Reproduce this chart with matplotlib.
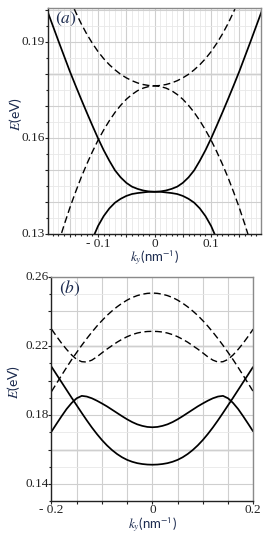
import matplotlib
matplotlib.use("Agg")
import matplotlib.pyplot as plt
from matplotlib.ticker import MultipleLocator

# ---------------- data: panel (a) ----------------
ka_sup = [-0.19, -0.18, -0.17, -0.16, -0.15, -0.14, -0.13, -0.12, -0.11, -0.10,
          -0.09, -0.08, -0.07, -0.06, -0.05, -0.04, -0.03, -0.02, -0.01, 0.0,
          0.01, 0.02, 0.03, 0.04, 0.05, 0.06, 0.07, 0.08, 0.09, 0.10,
          0.11, 0.12, 0.13, 0.14, 0.15, 0.16, 0.17, 0.18, 0.19]
Ea_sup = [0.2000, 0.1952, 0.1904, 0.1857, 0.1810, 0.1766, 0.1723, 0.1681, 0.1640, 0.1600,
          0.1563, 0.1530, 0.1500, 0.1478, 0.1461, 0.1449, 0.1442, 0.1437, 0.1434, 0.1433,
          0.1434, 0.1437, 0.1442, 0.1449, 0.1461, 0.1478, 0.1500, 0.1530, 0.1563, 0.1600,
          0.1640, 0.1681, 0.1723, 0.1766, 0.1810, 0.1857, 0.1904, 0.1952, 0.2000]

ka_slo = [-0.12, -0.11, -0.10, -0.09, -0.08, -0.07, -0.06, -0.05, -0.04, -0.03, -0.02, -0.01, 0.0,
          0.01, 0.02, 0.03, 0.04, 0.05, 0.06, 0.07, 0.08, 0.09, 0.10, 0.11, 0.12]
Ea_slo = [0.1233, 0.1285, 0.1326, 0.1357, 0.1381, 0.1399, 0.1411, 0.1420, 0.1426, 0.1429, 0.1431, 0.1433, 0.1433,
          0.1433, 0.1431, 0.1429, 0.1426, 0.1420, 0.1411, 0.1399, 0.1381, 0.1357, 0.1326, 0.1285, 0.1233]

ka_dup = [-0.15, -0.14, -0.13, -0.12, -0.11, -0.10, -0.09, -0.08, -0.07, -0.06, -0.05, -0.04, -0.03, -0.02, -0.01, 0.0,
          0.01, 0.02, 0.03, 0.04, 0.05, 0.06, 0.07, 0.08, 0.09, 0.10, 0.11, 0.12, 0.13, 0.14, 0.15]
Ea_dup = [0.2038, 0.1996, 0.1959, 0.1926, 0.1897, 0.1871, 0.1849, 0.1830, 0.1814, 0.1800, 0.1789, 0.1780, 0.1773, 0.1768, 0.1765, 0.1764,
          0.1765, 0.1768, 0.1773, 0.1780, 0.1789, 0.1800, 0.1814, 0.1830, 0.1849, 0.1871, 0.1897, 0.1926, 0.1959, 0.1996, 0.2038]

ka_dlo = [-0.17, -0.16, -0.15, -0.14, -0.13, -0.12, -0.11, -0.10, -0.09, -0.08, -0.07, -0.06, -0.05, -0.04, -0.03, -0.02, -0.01, 0.0,
          0.01, 0.02, 0.03, 0.04, 0.05, 0.06, 0.07, 0.08, 0.09, 0.10, 0.11, 0.12, 0.13, 0.14, 0.15, 0.16, 0.17]
Ea_dlo = [0.1273, 0.1329, 0.1382, 0.1431, 0.1477, 0.1519, 0.1558, 0.1594, 0.1626, 0.1655, 0.1681, 0.1703, 0.1722, 0.1737, 0.1749, 0.1757, 0.1762, 0.1764,
          0.1762, 0.1757, 0.1749, 0.1737, 0.1722, 0.1703, 0.1681, 0.1655, 0.1626, 0.1594, 0.1558, 0.1519, 0.1477, 0.1431, 0.1382, 0.1329, 0.1273]

# ---------------- data: panel (b) ----------------
kb = [-0.20, -0.19, -0.18, -0.17, -0.16, -0.15, -0.14, -0.13, -0.12, -0.11, -0.10,
      -0.09, -0.08, -0.07, -0.06, -0.05, -0.04, -0.03, -0.02, -0.01, 0.0,
      0.01, 0.02, 0.03, 0.04, 0.05, 0.06, 0.07, 0.08, 0.09, 0.10,
      0.11, 0.12, 0.13, 0.14, 0.15, 0.16, 0.17, 0.18, 0.19, 0.20]
Eb_d1 = [0.1936, 0.1983, 0.2030, 0.2076, 0.2121, 0.2163, 0.2204, 0.2243, 0.2280, 0.2315, 0.2347,
         0.2377, 0.2403, 0.2427, 0.2448, 0.2466, 0.2481, 0.2492, 0.2500, 0.2505, 0.2507,
         0.2505, 0.2500, 0.2492, 0.2481, 0.2466, 0.2448, 0.2427, 0.2403, 0.2377, 0.2347,
         0.2315, 0.2280, 0.2243, 0.2204, 0.2163, 0.2121, 0.2076, 0.2030, 0.1983, 0.1936]
Eb_d2 = [0.2298, 0.2256, 0.2216, 0.2180, 0.2148, 0.2122, 0.2109, 0.2107, 0.2118, 0.2137, 0.2160,
         0.2182, 0.2202, 0.2222, 0.2239, 0.2254, 0.2266, 0.2275, 0.2281, 0.2284, 0.2285,
         0.2284, 0.2281, 0.2275, 0.2266, 0.2254, 0.2239, 0.2222, 0.2202, 0.2182, 0.2160,
         0.2137, 0.2118, 0.2107, 0.2109, 0.2122, 0.2148, 0.2180, 0.2216, 0.2256, 0.2298]
Eb_s1 = [0.1704, 0.1749, 0.1793, 0.1835, 0.1870, 0.1897, 0.1911, 0.1907, 0.1897, 0.1883, 0.1867,
         0.1850, 0.1831, 0.1812, 0.1793, 0.1775, 0.1759, 0.1746, 0.1737, 0.1731, 0.1729,
         0.1731, 0.1737, 0.1746, 0.1759, 0.1775, 0.1793, 0.1812, 0.1831, 0.1850, 0.1867,
         0.1883, 0.1897, 0.1907, 0.1911, 0.1897, 0.1870, 0.1835, 0.1793, 0.1749, 0.1704]
Eb_s2 = [0.2080, 0.2035, 0.1990, 0.1945, 0.1900, 0.1856, 0.1812, 0.1769, 0.1728, 0.1690, 0.1655,
         0.1624, 0.1597, 0.1574, 0.1555, 0.1540, 0.1529, 0.1521, 0.1516, 0.1513, 0.1512,
         0.1513, 0.1516, 0.1521, 0.1529, 0.1540, 0.1555, 0.1574, 0.1597, 0.1624, 0.1655,
         0.1690, 0.1728, 0.1769, 0.1812, 0.1856, 0.1900, 0.1945, 0.1990, 0.2035, 0.2080]

# tick labels
xa_ticks = [-0.1, 0.0, 0.1]
xa_labels = ['- 0.1', '0', '0.1']
ya_ticks = [0.13, 0.16, 0.19]
ya_labels = ['0.13', '0.16', '0.19']
xb_ticks = [-0.2, 0.0, 0.2]
xb_labels = ['- 0.2', '0', '0.2']
yb_ticks = [0.14, 0.18, 0.22, 0.26]
yb_labels = ['0.14', '0.18', '0.22', '0.26']
# emphasised grid lines
a_dark_h = [0.18]
b_dark_h = [0.16, 0.22]

# ---------------- styling ----------------
plt.rcParams['mathtext.fontset'] = 'stix'
TXT = '#1c2b4f'
TICKFONT = dict(family='Liberation Serif', size=9.5)
SOLID = dict(color='black', lw=1.25, solid_capstyle='butt')
DASH = dict(color='black', lw=1.0, dashes=(5, 2.6))

fig = plt.figure(figsize=(2.73, 5.45), dpi=100)
ax_a = fig.add_axes([0.1747, 0.570, 0.781, 0.4158])
ax_b = fig.add_axes([0.1886, 0.0802, 0.739, 0.4116])


def style(ax, xlim, ylim, xmaj, xmin, ymaj, ymin, xt, xl, yt, yl, dark_h):
    ax.set_xlim(*xlim)
    ax.set_ylim(*ylim)
    ax.xaxis.set_major_locator(MultipleLocator(xmaj))
    if xmin:
        ax.xaxis.set_minor_locator(MultipleLocator(xmin))
    ax.yaxis.set_major_locator(MultipleLocator(ymaj))
    ax.yaxis.set_minor_locator(MultipleLocator(ymin))
    ax.grid(True, which='major', color='#cfcfcf', lw=0.8)
    ax.grid(True, which='minor', color='#e8e8e8', lw=0.6)
    for v in dark_h:
        ax.axhline(v, color='#b0b0b0', lw=1.0, zorder=0.5)
    ax.set_axisbelow(True)
    ax.tick_params(which='both', direction='out', length=2.2, width=0.8,
                   colors='#222222', labelsize=0, labelcolor='none')
    ax.tick_params(which='minor', length=1.3)
    for s in ('top', 'right'):
        ax.spines[s].set_color('#8a8a8a')
        ax.spines[s].set_linewidth(1.0)
    for s in ('left', 'bottom'):
        ax.spines[s].set_color('#222222')
        ax.spines[s].set_linewidth(1.0)
    for v, lab in zip(xt, xl):
        ax.text(v, -0.014, lab, transform=ax.get_xaxis_transform(),
                ha='center', va='top', color='#222222', **TICKFONT)
    for v, lab in zip(yt, yl):
        ax.text(-0.012, v, lab, transform=ax.get_yaxis_transform(),
                ha='right', va='center', color='#222222', **TICKFONT)


style(ax_a, (-0.189, 0.188), (0.13, 0.2008), 0.05, 0.01, 0.01, 0.005,
      xa_ticks, xa_labels, ya_ticks, ya_labels, a_dark_h)
style(ax_b, (-0.2, 0.2), (0.13, 0.26), 0.05, None, 0.02, 0.01,
      xb_ticks, xb_labels, yb_ticks, yb_labels, b_dark_h)

ax_a.plot(ka_sup, Ea_sup, **SOLID)
ax_a.plot(ka_slo, Ea_slo, **SOLID)
ax_a.plot(ka_dup, Ea_dup, **DASH)
ax_a.plot(ka_dlo, Ea_dlo, **DASH)

ax_b.plot(kb, Eb_s1, **SOLID)
ax_b.plot(kb, Eb_s2, **SOLID)
ax_b.plot(kb, Eb_d1, **DASH)
ax_b.plot(kb, Eb_d2, **DASH)

for ax, tag, ylx in ((ax_a, 'a', -0.11), (ax_b, 'b', -0.145)):
    ax.text(0.035, 0.99, r'$(%s)$' % tag, transform=ax.transAxes,
            ha='left', va='top', fontsize=12.5, color=TXT)
    ax.set_xlabel(r'$k_y$(nm$^{\mathsf{-1}}$)', fontsize=9.5, color=TXT,
                  family='Lato')
    ax.set_ylabel(r'$E$(eV)', fontsize=10, color=TXT, family='Lato')
    ax.xaxis.set_label_coords(0.5, -0.062)
    ax.yaxis.set_label_coords(ylx, 0.53)

fig.savefig('out.png', dpi=100)
